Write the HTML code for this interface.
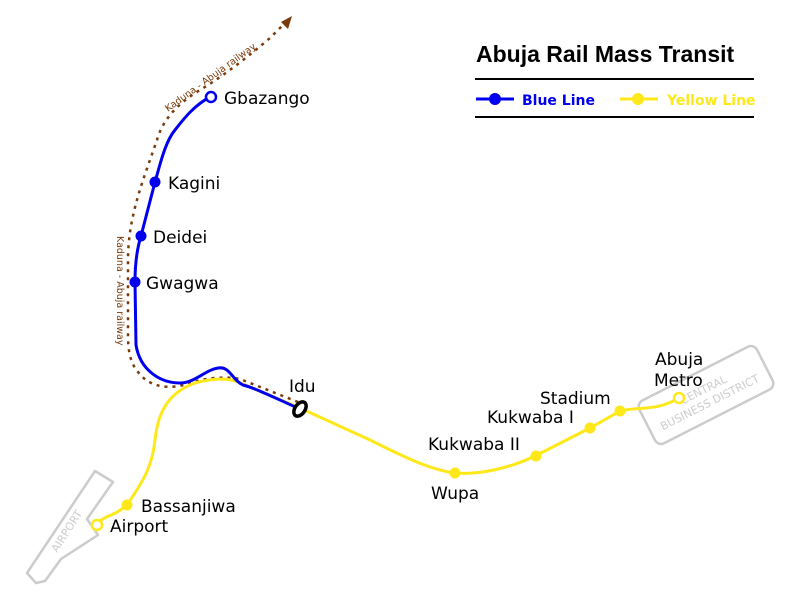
<!DOCTYPE html>
<html><head><meta charset="utf-8"><style>html,body{margin:0;padding:0;background:#fff}svg{display:block}</style></head>
<body>
<svg width="800" height="605" viewBox="0 0 800 605" xmlns="http://www.w3.org/2000/svg">
<rect width="800" height="605" fill="#fff"/>
<!-- airport -->
<path d="M95 471 L113 482 L87 519 L98 535 L61 559 L45 581 L36 583 L27 573 Z" fill="none" stroke="#ccc" stroke-width="2.5" stroke-linejoin="round"/>
<text x="0" y="0" transform="translate(57,553) rotate(-57)" font-family="DejaVu Sans, sans-serif" font-size="11" fill="#ccc">AIRPORT</text>
<!-- CBD -->
<g transform="translate(706,395) rotate(-27)">
<rect x="-66" y="-24" width="132" height="48" rx="7" fill="none" stroke="#ccc" stroke-width="2.5"/>
<text x="0" y="-2" text-anchor="middle" font-family="DejaVu Sans, sans-serif" font-size="11" fill="#ccc">CENTRAL</text>
<text x="0" y="12" text-anchor="middle" font-family="DejaVu Sans, sans-serif" font-size="11" fill="#ccc">BUSINESS DISTRICT</text>
</g>
<!-- railway -->
<path d="M298 402 L240 379 C225 376 205 378 190 383 C170 390 150 388 138 372 C128 360 128 345 128 330 L128 260 C128 230 135 205 143 180 L157 140 C162 122 175 105 200 90 C225 75 250 55 270 38 L286 22" fill="none" stroke="#7a3a0a" stroke-width="2.5" stroke-dasharray="3,5"/>
<path d="M292 16 L281 22 L288 29 Z" fill="#7a3a0a"/>
<text transform="translate(168,112) rotate(-36)" font-family="DejaVu Sans, sans-serif" font-size="9.5" fill="#7a3a0a">Kaduna - Abuja railway</text>
<text transform="translate(117,236) rotate(90)" font-family="DejaVu Sans, sans-serif" font-size="9.5" fill="#7a3a0a">Kaduna - Abuja railway</text>
<!-- yellow -->
<path d="M97 525 C103 515 112 518 127 505 C140 485 152 470 155 440 C158 410 170 392 195 383 C210 379 225 377 238 382 L300 408 L370 440 C400 455 430 470 455 473 C480 475 510 468 535 456 L590 428 L620 411 C640 406 655 412 679 398" fill="none" stroke="#ffe81a" stroke-width="3"/>
<!-- blue -->
<path d="M210 97 C195 105 185 117 175 130 C165 142 160 165 155 182 L141 236 C136 252 135 268 135 282 L136 345 C140 370 160 383 180 383 C195 383 205 370 218 368 C230 366 232 380 243 385 C255 388 275 398 300 409" fill="none" stroke="#0000ee" stroke-width="3"/>
<circle cx="211" cy="97" r="5" fill="#fff" stroke="#0000ee" stroke-width="2.5"/>
<circle cx="155" cy="182" r="5.5" fill="#0000ee"/>
<circle cx="141" cy="236" r="5.5" fill="#0000ee"/>
<circle cx="135" cy="282" r="5.5" fill="#0000ee"/>
<circle cx="97" cy="525" r="5" fill="#fff" stroke="#ffe81a" stroke-width="2.5"/>
<circle cx="127" cy="505" r="5.5" fill="#ffe81a"/>
<circle cx="455" cy="473" r="5.5" fill="#ffe81a"/>
<circle cx="536" cy="456" r="5.5" fill="#ffe81a"/>
<circle cx="590" cy="428" r="5.5" fill="#ffe81a"/>
<circle cx="620" cy="411" r="5.5" fill="#ffe81a"/>
<circle cx="679" cy="398" r="5" fill="#fff" stroke="#ffe81a" stroke-width="2.5"/>
<ellipse cx="300" cy="409" rx="5" ry="8" transform="rotate(35 300 409)" fill="#fff" stroke="#000" stroke-width="3.5"/>
<g font-family="DejaVu Sans, sans-serif" font-size="17" fill="#000">
<text x="224" y="104">Gbazango</text>
<text x="168" y="189">Kagini</text>
<text x="153" y="243">Deidei</text>
<text x="146" y="289">Gwagwa</text>
<text x="289" y="392">Idu</text>
<text x="141" y="512">Bassanjiwa</text>
<text x="110" y="532">Airport</text>
<text x="431" y="499">Wupa</text>
<text x="428" y="450">Kukwaba II</text>
<text x="487" y="423">Kukwaba I</text>
<text x="540" y="404">Stadium</text>
<text x="655" y="365">Abuja</text>
<text x="654" y="386">Metro</text>
</g>
<text x="476" y="62" font-family="Liberation Sans, sans-serif" font-weight="bold" font-size="23" fill="#000">Abuja Rail Mass Transit</text>
<line x1="475" y1="79" x2="754" y2="79" stroke="#000" stroke-width="2"/>
<line x1="475" y1="117" x2="754" y2="117" stroke="#000" stroke-width="2"/>
<line x1="476" y1="99" x2="514" y2="99" stroke="#0000ee" stroke-width="3"/>
<circle cx="495" cy="99" r="6" fill="#0000ee"/>
<text x="522" y="105" font-family="DejaVu Sans, sans-serif" font-weight="bold" font-size="14" fill="#0000ee">Blue Line</text>
<line x1="620" y1="99" x2="658" y2="99" stroke="#ffe81a" stroke-width="3"/>
<circle cx="638" cy="99" r="6" fill="#ffe81a"/>
<text x="667" y="105" font-family="DejaVu Sans, sans-serif" font-weight="bold" font-size="14" fill="#ffe81a">Yellow Line</text>
</svg>
</body></html>
